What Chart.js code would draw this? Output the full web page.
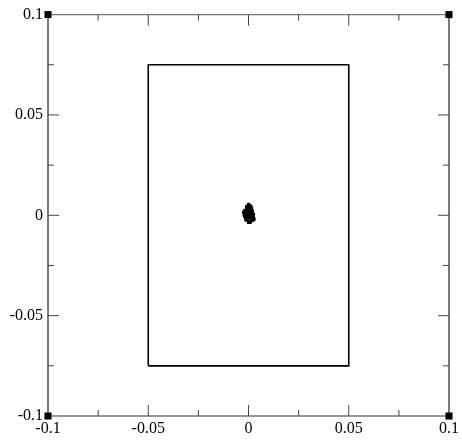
<!DOCTYPE html>
<html><head><meta charset="utf-8">
<script src="https://cdn.jsdelivr.net/npm/chart.js@4/dist/chart.umd.min.js"></script>
<style>html,body{margin:0;padding:0;background:#fff}#wrap{width:462px;height:445px}</style>
</head><body><div id="wrap"><canvas id="c" width="462" height="445"></canvas></div>
<script>
const tickValues = [-0.1, -0.05, 0, 0.05, 0.1];
const tickLabels = ["-0.1", "-0.05", "0", "0.05", "0.1"];
const minorTicks = [-0.075, -0.025, 0.025, 0.075];
const boxX = [-0.05, -0.05, 0.05, 0.05, -0.05];
const boxY = [-0.075, 0.075, 0.075, -0.075, -0.075];
const cornerX = [-0.1, 0.1, -0.1, 0.1];
const cornerY = [0.1, 0.1, -0.1, -0.1];
const clusterX = [0.0, -0.001, 0.001, 0.0005, -0.0005, 0.0015, -0.0015, 0.002, -0.002, 0.0, 0.001, -0.001, 0.0025, -0.0025, 0.0005, -0.0005, 0.0015, 0.0, 0.001, -0.001, 0.002, -0.0015, 0.0005, 0.0, -0.0005, 0.001, 0.0015, -0.001, 0.0, 0.0025, 0.0005, -0.002, 0.0012, -0.0008, 0.0003, 0.0018, -0.0018, 0.0022, 0.0008, -0.0012, 0.0002, 0.0016, -0.0003, 0.0011, 0.0028, -0.0022, 0.0006, -0.0006, 0.0014, 0.0019];
const clusterY = [0.0, 0.001, -0.001, 0.002, -0.002, 0.0005, -0.0005, 0.0, 0.001, 0.003, 0.003, 0.004, -0.001, 0.0015, -0.003, 0.004, -0.0025, -0.0035, 0.0, 0.0025, 0.002, -0.0015, 0.005, 0.0015, 0.003, -0.003, 0.0025, -0.002, 0.0055, 0.0005, 0.0035, -0.0005, 0.0045, 0.0045, -0.0035, -0.0015, 0.0025, -0.0025, -0.0035, -0.0025, -0.001, 0.0035, 0.0015, 0.001, -0.002, 0.0005, 0.0025, -0.001, -0.0005, 0.0005];

const toPts = (xs, ys) => xs.map((x, i) => ({x, y: ys[i]}));

const tickPlugin = {
  id: 'frameTicks',
  beforeDatasetsDraw(chart) {
    const {ctx, chartArea: a, scales: {x, y}} = chart;
    ctx.save();
    ctx.lineWidth = 1.3;
    ctx.strokeStyle = '#777';
    ctx.beginPath();
    ctx.moveTo(a.left, a.top); ctx.lineTo(a.right, a.top);
    ctx.moveTo(a.left, a.bottom); ctx.lineTo(a.right, a.bottom);
    ctx.stroke();
    ctx.strokeStyle = '#333';
    ctx.beginPath();
    ctx.moveTo(a.left, a.top); ctx.lineTo(a.left, a.bottom);
    ctx.moveTo(a.right, a.top); ctx.lineTo(a.right, a.bottom);
    ctx.stroke();
    ctx.lineWidth = 1;
    ctx.strokeStyle = '#444';
    const draw = (vals, len) => {
      ctx.beginPath();
      vals.forEach(v => {
        const px = x.getPixelForValue(v);
        ctx.moveTo(px, a.bottom); ctx.lineTo(px, a.bottom - len);
        ctx.moveTo(px, a.top); ctx.lineTo(px, a.top + len);
        const py = y.getPixelForValue(v);
        ctx.moveTo(a.left, py); ctx.lineTo(a.left + len, py);
        ctx.moveTo(a.right, py); ctx.lineTo(a.right - len, py);
      });
      ctx.stroke();
    };
    draw(tickValues.slice(1, -1), 11);
    draw(minorTicks, 6);
    ctx.restore();
  }
};

const fixedSize = (w, h) => (scale) => {
  if (w !== null) scale.width = w;
  if (h !== null) scale.height = h;
};

new Chart(document.getElementById('c'), {
  type: 'scatter',
  data: {
    datasets: [
      {data: toPts(boxX, boxY), showLine: true, borderColor: '#000', borderWidth: 1.6, pointRadius: 0, fill: false, order: 3},
      {data: toPts(clusterX, clusterY), pointStyle: 'rect', pointRadius: 2.2, backgroundColor: '#000', borderColor: '#000', borderWidth: 0, order: 2},
      {data: toPts(cornerX, cornerY), pointStyle: 'rect', pointRadius: 5, backgroundColor: '#000', borderColor: '#000', borderWidth: 0, order: 1, clip: false}
    ]
  },
  options: {
    responsive: false,
    animation: false,
    layout: {padding: {top: 14, right: 12, left: 0, bottom: 0}},
    plugins: {legend: {display: false}, tooltip: {enabled: false}},
    scales: {
      x: {
        type: 'linear', min: -0.1, max: 0.1,
        afterFit: fixedSize(null, 29),
        afterBuildTicks: (s) => { s.ticks = tickValues.map(v => ({value: v})); },
        grid: {display: false, drawTicks: false},
        border: {display: false},
        ticks: {padding: 3, color: '#000', font: {family: 'Liberation Serif', size: 16}, maxRotation: 0,
          callback: (v) => tickLabels[tickValues.indexOf(v)] ?? ''}
      },
      y: {
        type: 'linear', min: -0.1, max: 0.1,
        afterFit: fixedSize(48, null),
        afterBuildTicks: (s) => { s.ticks = tickValues.map(v => ({value: v})); },
        grid: {display: false, drawTicks: false},
        border: {display: false},
        ticks: {padding: 5, color: '#000', font: {family: 'Liberation Serif', size: 16},
          callback: (v) => tickLabels[tickValues.indexOf(v)] ?? ''}
      }
    }
  },
  plugins: [tickPlugin]
});
</script></body></html>
